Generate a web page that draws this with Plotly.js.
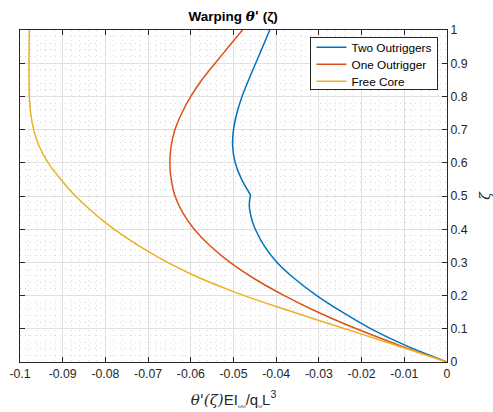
<!DOCTYPE html>
<html>
<head>
<meta charset="utf-8">
<script src="https://cdn.plot.ly/plotly-3.0.1.min.js"></script>
<style>
  html, body { margin: 0; padding: 0; background: #fff; }
  #chart { width: 493px; height: 412px; }
</style>
</head>
<body>
<div id="chart"></div>
<script>
// Warping rotation derivative along the normalised height zeta
// Two outriggers: lower part (base up to the outrigger at 0.5) and upper part
const zetaTwo  = [0, 0.05, 0.1, 0.15, 0.2, 0.25, 0.3, 0.35, 0.4, 0.42, 0.45, 0.47, 0.49, 0.503];
const thetaTwo = [0, -0.0097, -0.0178, -0.0245, -0.0305, -0.0356, -0.0398, -0.0428, -0.0449, -0.0455, -0.0461, -0.0463, -0.0462, -0.046];
const zetaTwoUp  = [0.503, 0.55, 0.6, 0.65, 0.7, 0.75, 0.8, 0.9, 1.0];
const thetaTwoUp = [-0.046, -0.0481, -0.0496, -0.0502, -0.0500, -0.0492, -0.0480, -0.0448, -0.0415];

const zetaOne  = [0, 0.05, 0.1, 0.15, 0.2, 0.25, 0.3, 0.35, 0.4, 0.45, 0.5, 0.55, 0.6, 0.65, 0.7, 0.75, 0.8, 0.85, 0.9, 0.95, 1.0];
const thetaOne = [0, -0.0111, -0.0212, -0.0302, -0.0381, -0.0450, -0.0508, -0.0555, -0.0592, -0.0619, -0.0637, -0.0646, -0.0649, -0.0646, -0.0637, -0.0621, -0.0600, -0.0574, -0.0543, -0.0511, -0.0479];

const zetaFree  = [0, 0.042, 0.084, 0.125, 0.167, 0.212, 0.265, 0.333, 0.42, 0.5, 0.54, 0.6, 0.65, 0.7, 0.75, 0.8, 0.9, 1.0];
const thetaFree = [0, -0.01, -0.02, -0.03, -0.04, -0.05, -0.06, -0.07, -0.08, -0.0870, -0.0898, -0.0934, -0.0955, -0.0968, -0.0975, -0.0978, -0.0979, -0.0978];

const seriesNames = ['Two Outriggers', 'One Outrigger', 'Free Core'];
const seriesColors = ['#0072BD', '#D95319', '#EDB120'];

const xTickVals = [-0.1, -0.09, -0.08, -0.07, -0.06, -0.05, -0.04, -0.03, -0.02, -0.01, 0];
const xTickText = ['-0.1', '-0.09', '-0.08', '-0.07', '-0.06', '-0.05', '-0.04', '-0.03', '-0.02', '-0.01', '0'];
const yTickVals = [0, 0.1, 0.2, 0.3, 0.4, 0.5, 0.6, 0.7, 0.8, 0.9, 1];
const yTickText = ['0', '0.1', '0.2', '0.3', '0.4', '0.5', '0.6', '0.7', '0.8', '0.9', '1'];

function curve(x, y, i, show) {
  return {
    type: 'scatter', mode: 'lines',
    name: seriesNames[i], legendgroup: seriesNames[i], showlegend: show,
    x: x, y: y,
    line: { color: seriesColors[i], width: 1.5, shape: 'spline', smoothing: 0.8 },
    cliponaxis: false
  };
}

// the two-outrigger curve is split at the outrigger level so its kink stays sharp
const traces = [
  curve(thetaTwo, zetaTwo, 0, true),
  curve(thetaTwoUp, zetaTwoUp, 0, false),
  curve(thetaOne, zetaOne, 1, true),
  curve(thetaFree, zetaFree, 2, true)
];

const font = { family: 'Liberation Sans, Arial, sans-serif', size: 12.3, color: '#262626' };
const serif = "font-family:'DejaVu Serif',serif;font-style:italic";

const axisCommon = {
  showline: true,
  linecolor: '#262626',
  linewidth: 1,
  mirror: 'allticks',
  ticks: 'inside',
  ticklen: 5,
  tickcolor: '#262626',
  showgrid: true,
  gridcolor: '#e0e0e0',
  gridwidth: 1,
  zeroline: false,
  tickmode: 'array',
  tickfont: font
};

const minorGrid = { showgrid: true, gridcolor: '#dadada', griddash: '1px,4px', gridwidth: 1, ticks: '' };

const layout = {
  width: 493,
  height: 412,
  margin: { l: 20, r: 45.5, t: 29.5, b: 49.7 },
  paper_bgcolor: '#ffffff',
  plot_bgcolor: '#ffffff',
  font: font,
  showlegend: true,
  title: {
    text: "<b>Warping <span style=\"" + serif + "\">θ'</span> (ζ)</b>",
    font: { family: 'Liberation Sans, Arial, sans-serif', size: 13.5, color: '#000' },
    x: 0.473, xanchor: 'center', y: 0.96, yanchor: 'middle'
  },
  xaxis: Object.assign({}, axisCommon, {
    range: [-0.1, 0],
    tickvals: xTickVals,
    ticktext: xTickText,
    minor: Object.assign({ dtick: 0.002 }, minorGrid),
    title: {
      text: "<span style=\"" + serif + "\">θ'(ζ)</span>EI<sub><span style=\"font-size:5px\">ωω</span></sub>/q<sub><span style=\"font-size:5px\">ω</span></sub>L<sup>3</sup>",
      font: { family: 'Liberation Sans, Arial, sans-serif', size: 15, color: '#262626' },
      standoff: 14
    }
  }),
  yaxis: Object.assign({}, axisCommon, {
    range: [0, 1],
    side: 'right',
    tickvals: yTickVals,
    ticktext: yTickText,
    minor: Object.assign({ dtick: 0.02 }, minorGrid),
    title: {
      text: "<span style=\"" + serif + "\">ζ</span>",
      font: { family: 'Liberation Sans, Arial, sans-serif', size: 14, color: '#262626' }
    }
  }),
  legend: {
    x: 0.980, xanchor: 'right',
    y: 0.978, yanchor: 'top',
    bgcolor: '#ffffff',
    bordercolor: '#262626',
    borderwidth: 1,
    font: { family: 'Liberation Sans, Arial, sans-serif', size: 11.8, color: '#000' },
    tracegroupgap: 0,
    traceorder: 'normal'
  }
};

Plotly.newPlot('chart', traces, layout, { displayModeBar: false, staticPlot: true }).then(gd => {
  // tighten the legend rows to a 17px pitch
  const rows = gd.querySelectorAll('.legend .traces');
  rows.forEach((el, i) => {
    const m = /translate\(([^,]+),\s*([^)]+)\)/.exec(el.getAttribute('transform') || '');
    const tx = m ? m[1] : 0;
    el.setAttribute('transform', 'translate(' + tx + ',' + (10 + i * 17) + ')');
  });
  const bg = gd.querySelector('.legend .bg');
  if (bg) bg.setAttribute('height', 52);
});
</script>
</body>
</html>
